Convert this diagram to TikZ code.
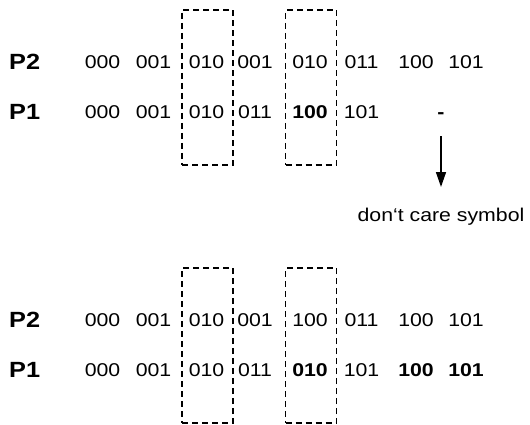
\documentclass[tikz,border=0pt]{standalone}
\usepackage{fontspec}
\usepackage{graphicx}
\setmainfont{Liberation Sans}
\usetikzlibrary{arrows.meta}
\newcommand{\hs}[1]{\scalebox{1.15}[1]{#1}}
\tikzset{
  num/.style={inner sep=0pt, font=\fontsize{18.5}{20}\selectfont, text height=13.3pt, text depth=0pt},
  bnum/.style={num, font=\fontsize{18.5}{20}\selectfont\bfseries},
  lab/.style={inner sep=0pt, anchor=west, font=\fontsize{22}{24}\selectfont\bfseries, text height=15.8pt, text depth=0pt},
  dbox/.style={draw, line width=1.3pt, dash pattern=on 6pt off 4pt, inner sep=0pt, minimum width=51pt, minimum height=155pt},
  note/.style={inner sep=0pt, anchor=north, font=\fontsize{18.5}{20}\selectfont, text height=13.3pt, text depth=4pt},
  pointer/.style={line width=1.5pt, -{Triangle[length=15pt,width=10pt]}}
}
\begin{document}
\begin{tikzpicture}[x=1pt,y=-1pt]
\useasboundingbox (0,0) rectangle (530,425);
% dashed boxes
\node[dbox] (tb1) at (207.5,87.5) {};
\node[dbox] (tb2) at (311,87.5) {};
\node[dbox] (bb1) at (207.5,345.5) {};
\node[dbox] (bb2) at (311,345.5) {};
% top block
\node[lab] (tP2) at (9,61.5) {\hs{P2}};
\node[lab] (tP1) at (9,112) {\hs{P1}};
\node[num] (t21) at (102.5,61.5) {\hs{000}};
\node[num] (t22) at (153.5,61.5) {\hs{001}};
\node[num] (t23) at (206.5,61.5) {\hs{010}};
\node[num] (t24) at (255,61.5) {\hs{001}};
\node[num] (t25) at (310,61.5) {\hs{010}};
\node[num] (t26) at (361.5,61.5) {\hs{011}};
\node[num] (t27) at (416,61.5) {\hs{100}};
\node[num] (t28) at (466,61.5) {\hs{101}};
\node[num] (t11) at (102.5,112) {\hs{000}};
\node[num] (t12) at (153.5,112) {\hs{001}};
\node[num] (t13) at (206.5,112) {\hs{010}};
\node[num] (t14) at (255,112) {\hs{011}};
\node[bnum] (t15) at (310,112) {\hs{100}};
\node[num] (t16) at (361.5,112) {\hs{101}};
\node[bnum] (dash) at (441,112) {\hs{-}};
\node[note] (dont) at (441,208) {\hs{don‘t care symbol}};
\draw[pointer, shorten <=17.3pt, shorten >=21pt] (dash.south) -- (dont.north);
% bottom block
\node[lab] (bP2) at (9,320) {\hs{P2}};
\node[lab] (bP1) at (9,370) {\hs{P1}};
\node[num] (b21) at (102.5,320) {\hs{000}};
\node[num] (b22) at (153.5,320) {\hs{001}};
\node[num] (b23) at (206.5,320) {\hs{010}};
\node[num] (b24) at (255,320) {\hs{001}};
\node[num] (b25) at (310,320) {\hs{100}};
\node[num] (b26) at (361.5,320) {\hs{011}};
\node[num] (b27) at (416,320) {\hs{100}};
\node[num] (b28) at (466,320) {\hs{101}};
\node[num] (b11) at (102.5,370) {\hs{000}};
\node[num] (b12) at (153.5,370) {\hs{001}};
\node[num] (b13) at (206.5,370) {\hs{010}};
\node[num] (b14) at (255,370) {\hs{011}};
\node[bnum] (b15) at (310,370) {\hs{010}};
\node[num] (b16) at (361.5,370) {\hs{101}};
\node[bnum] (b17) at (416,370) {\hs{100}};
\node[bnum] (b18) at (466,370) {\hs{101}};
\end{tikzpicture}
\end{document}
